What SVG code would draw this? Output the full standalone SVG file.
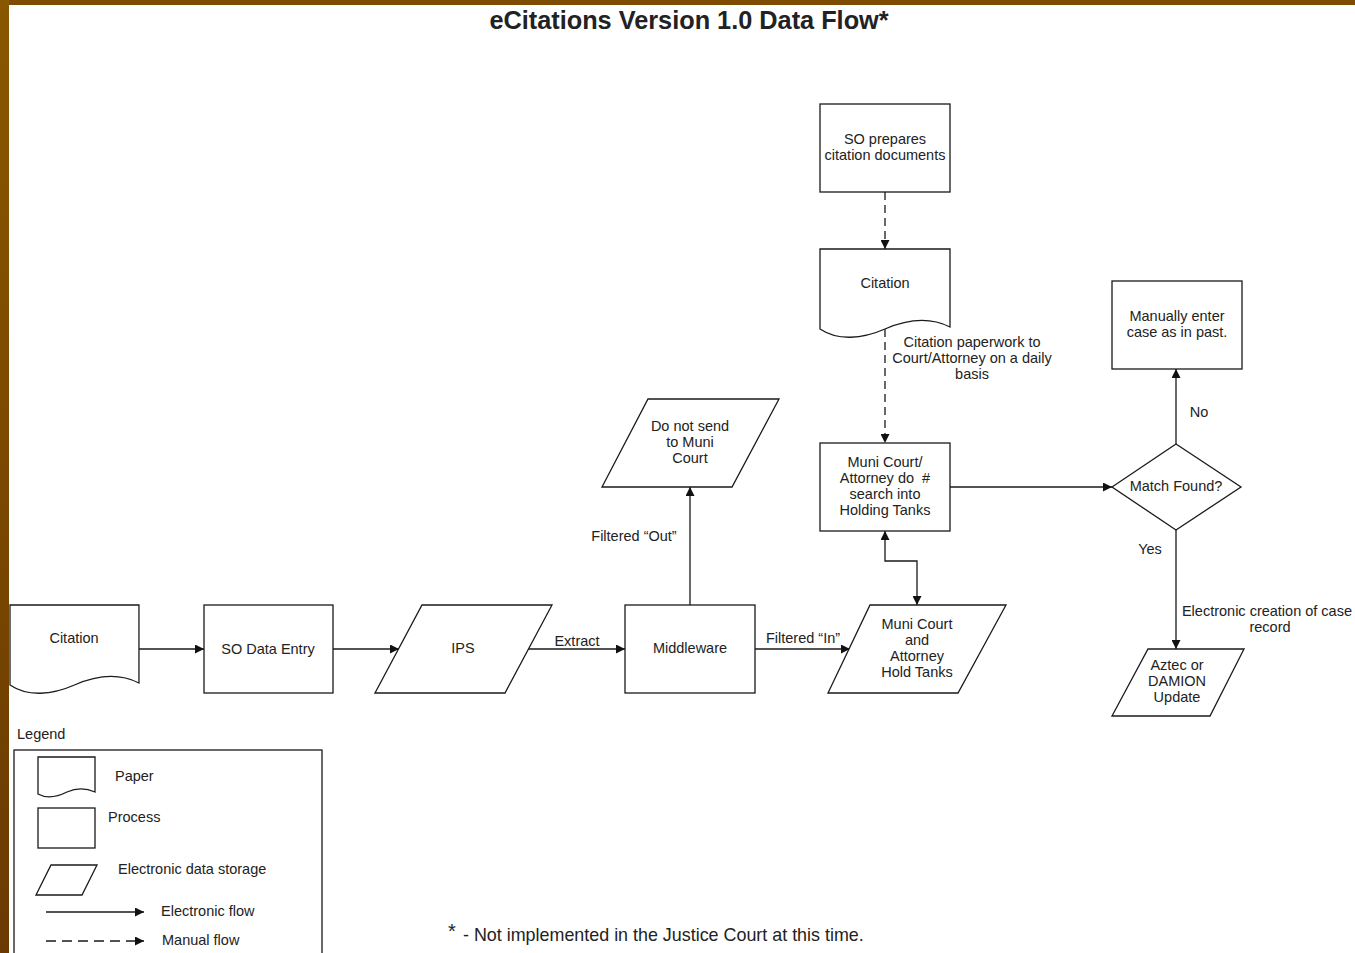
<svg xmlns="http://www.w3.org/2000/svg" width="1355" height="953" viewBox="0 0 1355 953">
<defs>
<linearGradient id="lb" x1="0" y1="0" x2="0" y2="1">
<stop offset="0" stop-color="#8a5700"/>
<stop offset="1" stop-color="#6a3a02"/>
</linearGradient>
<marker id="ah" viewBox="0 0 10 10" refX="10" refY="5" markerWidth="10" markerHeight="9" markerUnits="userSpaceOnUse" orient="auto-start-reverse">
<path d="M0,0 L10,5 L0,10 Z" fill="#111"/>
</marker>
<path id="doc" d="M0,0 H130 V78 C110,68 88,70 65,80 C42,90 18,92 0,80 Z"/>
</defs>
<style>
.s{fill:#fff;stroke:#1a1a1a;stroke-width:1.3}
.t{font-family:"Liberation Sans",Arial,sans-serif;font-size:14.5px;fill:#222;text-anchor:middle}
.l{font-family:"Liberation Sans",Arial,sans-serif;font-size:14.5px;fill:#222}
.c{fill:none;stroke:#1a1a1a;stroke-width:1.3}
.e{marker-end:url(#ah)}
.d{stroke-dasharray:8 5}
</style>
<rect x="0" y="0" width="1355" height="953" fill="#fff"/>
<rect x="0" y="0" width="1355" height="5" fill="#7f4b00"/>
<rect x="0" y="0" width="9" height="953" fill="url(#lb)"/>

<text x="689" y="29" font-family="Liberation Sans,Arial,sans-serif" font-size="25.3" font-weight="bold" fill="#222" text-anchor="middle">eCitations Version 1.0 Data Flow*</text>

<g id="connectors">
<path class="c e" d="M139,649 H204"/>
<path class="c e" d="M333,649 H399"/>
<path class="c e" d="M529,649 H625"/>
<path class="c e" d="M690,605 V487"/>
<path class="c e" d="M755,649 H850"/>
<path class="c e" d="M885,531 V561 H917 V605" marker-start="url(#ah)"/>
<path class="c e d" d="M885,192 V249"/>
<path class="c e d" d="M885,329 V443"/>
<path class="c e" d="M950,487 H1112"/>
<path class="c e" d="M1176,444 V369"/>
<path class="c e" d="M1176,530 V649"/>
<text class="t" x="577" y="646">Extract</text>
<text class="t" x="634" y="541">Filtered “Out”</text>
<text class="t" x="803" y="643">Filtered “In”</text>
<text class="t" x="972" y="347">Citation paperwork to</text>
<text class="t" x="972" y="363">Court/Attorney on a daily</text>
<text class="t" x="972" y="379">basis</text>
<text class="t" x="1199" y="417">No</text>
<text class="t" x="1150" y="554">Yes</text>
<text class="t" x="1352" y="616" style="text-anchor:end">Electronic creation of case</text>
<text class="t" x="1270" y="632">record</text>
</g>

<g id="so-prepares">
<rect class="s" x="820" y="104" width="130" height="88"/>
<text class="t" x="885" y="144">SO prepares</text>
<text class="t" x="885" y="160">citation documents</text>
</g>
<g id="citation-top">
<use href="#doc" class="s" transform="translate(820,249)"/>
<text class="t" x="885" y="288">Citation</text>
</g>
<g id="muni-search">
<rect class="s" x="820" y="443" width="130" height="88"/>
<text class="t" x="885" y="467">Muni Court/</text>
<text class="t" x="885" y="483" style="white-space:pre">Attorney do  #</text>
<text class="t" x="885" y="499">search into</text>
<text class="t" x="885" y="515">Holding Tanks</text>
</g>
<g id="match">
<path class="s" d="M1112,487 L1176,444 L1241,487 L1176,530 Z"/>
<text class="t" x="1176" y="491">Match Found?</text>
</g>
<g id="manual-enter">
<rect class="s" x="1112" y="281" width="130" height="88"/>
<text class="t" x="1177" y="321">Manually enter</text>
<text class="t" x="1177" y="337">case as in past.</text>
</g>
<g id="aztec">
<path class="s" d="M1148,649 L1244,649 L1210,716 L1112,716 Z"/>
<text class="t" x="1177" y="670">Aztec or</text>
<text class="t" x="1177" y="686">DAMION</text>
<text class="t" x="1177" y="702">Update</text>
</g>
<g id="citation-left">
<use href="#doc" class="s" transform="translate(10,605) scale(0.992,1)"/>
<text class="t" x="74" y="643">Citation</text>
</g>
<g id="so-data-entry">
<rect class="s" x="204" y="605" width="129" height="88"/>
<text class="t" x="268" y="654">SO Data Entry</text>
</g>
<g id="ips">
<path class="s" d="M422,605 L552,605 L505,693 L375,693 Z"/>
<text class="t" x="463" y="653">IPS</text>
</g>
<g id="middleware">
<rect class="s" x="625" y="605" width="130" height="88"/>
<text class="t" x="690" y="653">Middleware</text>
</g>
<g id="do-not-send">
<path class="s" d="M648,399 L779,399 L732,487 L602,487 Z"/>
<text class="t" x="690" y="431">Do not send</text>
<text class="t" x="690" y="447">to Muni</text>
<text class="t" x="690" y="463">Court</text>
</g>
<g id="hold-tanks">
<path class="s" d="M870,605 L1006,605 L958,693 L828,693 Z"/>
<text class="t" x="917" y="629">Muni Court</text>
<text class="t" x="917" y="645">and</text>
<text class="t" x="917" y="661">Attorney</text>
<text class="t" x="917" y="677">Hold Tanks</text>
</g>

<g id="legend">
<text class="l" x="17" y="739">Legend</text>
<rect class="s" x="14" y="750" width="308" height="215"/>
<path class="s" d="M38,757 H95 V792 C86,788 76,788 67,792 C57,797 47,799 38,794 Z"/>
<text class="l" x="115" y="781">Paper</text>
<rect class="s" x="38" y="808" width="57" height="40"/>
<text class="l" x="108" y="822">Process</text>
<path class="s" d="M51,865 L97,865 L82,895 L36,895 Z"/>
<text class="l" x="118" y="874">Electronic data storage</text>
<path class="c e" d="M46,912 H144"/>
<text class="l" x="161" y="916">Electronic flow</text>
<path class="c e" d="M46,941 H144" stroke-dasharray="10 6"/>
<text class="l" x="162" y="945">Manual flow</text>
</g>

<g id="footnote">
<text class="l" x="448" y="938" style="font-size:20px">*</text>
<text class="l" x="463" y="941" style="font-size:17.9px">- Not implemented in the Justice Court at this time.</text>
</g>
</svg>
